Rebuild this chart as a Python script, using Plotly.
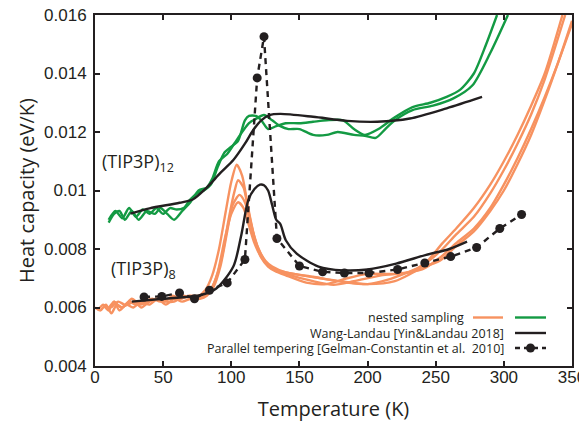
import plotly.graph_objects as go

# ---------------- data ----------------
# Parallel tempering [Gelman-Constantin et al. 2010], (TIP3P)8
pt_T = [36, 49, 62, 73, 84, 97, 110, 119, 124, 133.5, 150, 167, 183, 201, 222, 242, 261, 280, 297, 313]
pt_C = [0.00636, 0.00638, 0.0065, 0.0063, 0.00659, 0.00684, 0.00764, 0.01385, 0.01526, 0.00836,
        0.00742, 0.00722, 0.00718, 0.00718, 0.0073, 0.00752, 0.00774, 0.00805, 0.0087, 0.00918]

# Wang-Landau [Yin&Landau 2018], (TIP3P)8
wl8_T = [27, 50, 77, 89, 101.5, 107, 112.5, 117, 121, 124, 127, 130, 133, 136, 140, 148, 164, 182, 200, 221, 243, 260, 273]
wl8_C = [0.0062, 0.0063, 0.00642, 0.00665, 0.0074, 0.0084, 0.00967, 0.01005, 0.0102, 0.01018, 0.0100, 0.0095,
         0.0090, 0.00885, 0.0083, 0.00784, 0.0074, 0.00727, 0.0073, 0.0075, 0.0078, 0.0080, 0.00825]

# Wang-Landau [Yin&Landau 2018], (TIP3P)12
wl12_T = [26, 40, 62, 72, 82, 92, 101.5, 110, 116, 122, 128, 136, 160, 185, 207, 231, 258, 284]
wl12_C = [0.00921, 0.00939, 0.00958, 0.0097, 0.0101, 0.0106, 0.01104, 0.0116, 0.01206, 0.0124, 0.01258,
          0.01262, 0.01252, 0.01238, 0.01235, 0.01246, 0.01281, 0.0132]

# nested sampling, (TIP3P)12 (green)
ns12a_T = [10, 15, 20, 25, 30, 35, 40, 45, 50, 55, 60, 65, 70, 75, 80, 85, 90, 95, 100, 105, 110, 113, 118,
           122, 127, 133, 140, 150, 160, 170, 182, 190, 198, 208, 220, 233, 246, 258, 268, 278, 287, 295]
ns12a_C = [0.0090, 0.0093, 0.00905, 0.0094, 0.0091, 0.00935, 0.0092, 0.0094, 0.0092, 0.0094, 0.00935,
           0.0094, 0.0097, 0.0099, 0.0100, 0.0102, 0.0108, 0.0113, 0.0115, 0.0117, 0.0124, 0.01255,
           0.01255, 0.0124, 0.0121, 0.0122, 0.0123, 0.0123, 0.01235, 0.0124, 0.0124, 0.0121, 0.0119,
           0.0121, 0.0125, 0.01285, 0.0130, 0.0132, 0.01345, 0.0140, 0.0150, 0.0160]
ns12b_T = [10, 14, 18, 22, 27, 32, 38, 44, 48, 53, 58, 64, 70, 76, 82, 86, 91, 97, 105, 113, 118, 124,
           130, 136, 142, 150, 160, 170, 178, 190, 198, 206, 213, 220, 233, 248, 263, 277, 290, 303]
ns12b_C = [0.0089, 0.0092, 0.0093, 0.0090, 0.0093, 0.0090, 0.0093, 0.0092, 0.0094, 0.0092, 0.0090,
           0.0093, 0.0096, 0.0100, 0.0101, 0.0104, 0.0110, 0.01125, 0.0118, 0.0123, 0.01245, 0.01258,
           0.0124, 0.0122, 0.0121, 0.0121, 0.0119, 0.0119, 0.0120, 0.0119, 0.01187, 0.0118, 0.0121,
           0.0124, 0.01275, 0.0129, 0.01315, 0.0136, 0.0147, 0.0160]

# nested sampling, (TIP3P)8 (orange)
ns8a_T = [0, 4, 8, 12, 16, 20, 25, 30, 36, 42, 48, 55, 62, 70, 76, 81, 86, 91, 96, 100, 104, 108, 112,
          116, 120, 125, 130, 140, 160, 180, 200, 220, 240, 255, 265, 278, 290, 300, 310, 320, 330, 343]
ns8a_C = [0.0060, 0.0059, 0.0061, 0.0058, 0.0061, 0.0060, 0.0062, 0.0061, 0.0062, 0.0063, 0.0062,
          0.0063, 0.0063, 0.0064, 0.0064, 0.0066, 0.0071, 0.0080, 0.0093, 0.0103, 0.01088, 0.0105,
          0.0095, 0.0086, 0.0080, 0.0076, 0.0074, 0.0072, 0.00705, 0.0069, 0.0068, 0.0069, 0.0074,
          0.0082, 0.0087, 0.0094, 0.0102, 0.0110, 0.0119, 0.0129, 0.0140, 0.0160]
ns8b_T = [2, 6, 10, 14, 18, 23, 28, 34, 40, 46, 52, 58, 65, 72, 78, 83, 88, 93, 98, 102, 105, 109, 113,
          117, 121, 126, 131, 140, 160, 175, 190, 210, 230, 245, 255, 265, 278, 290, 300, 310, 320, 330, 345]
ns8b_C = [0.0059, 0.0061, 0.0060, 0.0062, 0.0059, 0.0061, 0.0060, 0.0062, 0.0061, 0.0063, 0.0062,
          0.0062, 0.0064, 0.0063, 0.0064, 0.0065, 0.0069, 0.0077, 0.0090, 0.0099, 0.01035, 0.0101,
          0.0092, 0.0084, 0.0079, 0.0075, 0.0073, 0.00715, 0.0069, 0.00678, 0.0069, 0.0071, 0.0072,
          0.0076, 0.0080, 0.0085, 0.0091, 0.0099, 0.0107, 0.0116, 0.0126, 0.0138, 0.0160]
ns8c_T = [6, 10, 14, 19, 24, 29, 34, 40, 46, 52, 58, 64, 70, 77, 82, 87, 92, 97, 101, 106, 110, 114,
          118, 122, 127, 132, 140, 155, 170, 185, 200, 220, 240, 253, 265, 278, 290, 300, 310, 320, 330, 340, 350]
ns8c_C = [0.0061, 0.0059, 0.0062, 0.0060, 0.0061, 0.0062, 0.0060, 0.0062, 0.0063, 0.0061, 0.0063,
          0.0062, 0.0063, 0.0063, 0.0064, 0.0067, 0.0074, 0.0086, 0.0095, 0.00985, 0.0096, 0.0089,
          0.0082, 0.0077, 0.0074, 0.00725, 0.0071, 0.00685, 0.0068, 0.0070, 0.00715, 0.00715, 0.0073,
          0.0077, 0.0082, 0.0087, 0.0094, 0.0102, 0.0111, 0.0121, 0.0132, 0.0144, 0.0157]
ns8d_T = [12, 17, 22, 27, 33, 39, 45, 51, 57, 63, 69, 75, 80, 85, 90, 95, 100, 105, 109, 113, 117, 121,
          126, 132, 140, 165, 185, 200, 215, 235, 253, 265, 278, 290, 300, 310, 320, 330, 340, 350]
ns8d_C = [0.0060, 0.0062, 0.0061, 0.0063, 0.0061, 0.0062, 0.0063, 0.0062, 0.0064, 0.0063, 0.0064,
          0.0063, 0.0064, 0.0066, 0.0072, 0.0083, 0.0092, 0.0096, 0.0094, 0.0088, 0.0082, 0.0078,
          0.0075, 0.0073, 0.0072, 0.0070, 0.00685, 0.0068, 0.00695, 0.0073, 0.0076, 0.0081, 0.0086,
          0.0093, 0.0100, 0.0109, 0.0119, 0.0131, 0.0144, 0.0158]

x_ticks = [0, 50, 100, 150, 200, 250, 300, 350]
y_ticks = [0.004, 0.006, 0.008, 0.010, 0.012, 0.014, 0.016]
y_ticktext = ["0.004", "0.006", "0.008", "0.01", "0.012", "0.014", "0.016"]

# ---------------- style ----------------
ORANGE = "#f79260"
GREEN = "#139a43"
BLACK = "#231f20"
LW = 2.4

fig = go.Figure()

for T, C in [(ns8a_T, ns8a_C), (ns8b_T, ns8b_C), (ns8c_T, ns8c_C), (ns8d_T, ns8d_C)]:
    fig.add_trace(go.Scatter(x=T, y=C, mode="lines", line=dict(color=ORANGE, width=LW, shape="spline", smoothing=0.7),
                             showlegend=False, hoverinfo="skip"))
for T, C in [(ns12a_T, ns12a_C), (ns12b_T, ns12b_C)]:
    fig.add_trace(go.Scatter(x=T, y=C, mode="lines", line=dict(color=GREEN, width=LW, shape="spline", smoothing=0.7),
                             showlegend=False, hoverinfo="skip"))
for T, C in [(wl12_T, wl12_C), (wl8_T, wl8_C)]:
    fig.add_trace(go.Scatter(x=T, y=C, mode="lines", line=dict(color=BLACK, width=LW, shape="spline", smoothing=0.8),
                             showlegend=False, hoverinfo="skip"))
fig.add_trace(go.Scatter(x=pt_T, y=pt_C, mode="lines+markers",
                         line=dict(color=BLACK, width=LW, dash="6px,5px"),
                         marker=dict(color=BLACK, size=9), showlegend=False, hoverinfo="skip"))

FONT = "Liberation Sans, Arial, sans-serif"
LFONT = "Open Sans, Liberation Sans, sans-serif"

axis_common = dict(showline=True, linecolor=BLACK, linewidth=2, mirror="allticks", ticks="inside",
                   ticklen=5, tickwidth=1.5, tickcolor=BLACK, showgrid=False, zeroline=False,
                   automargin=False, ticklabeloverflow="allow",
                   tickfont=dict(family=FONT, size=17, color=BLACK))

# the page has an 8px body margin: the figure starts at (8, 8) and fills the rest of the window
fig.update_layout(
    width=579, height=415,
    margin=dict(l=87, r=15, t=7, b=57),
    paper_bgcolor="white", plot_bgcolor="white",
    xaxis=dict(range=[0, 350], tickvals=x_ticks, ticklabelstandoff=-5,
               title=dict(text="Temperature (K)", font=dict(family=LFONT, size=20, color=BLACK), standoff=16), **axis_common),
    yaxis=dict(range=[0.004, 0.016], tickvals=y_ticks, ticktext=y_ticktext, ticklabelstandoff=3,
               title=dict(text="Heat capacity (eV/K)", font=dict(family=LFONT, size=20, color=BLACK), standoff=4), **axis_common),
    showlegend=False,
)

# labels
fig.add_annotation(x=0.01, y=0.58, xref="paper", yref="paper", xanchor="left", yanchor="middle",
                   text="(TIP3P)<sub>12</sub>", showarrow=False, font=dict(family=LFONT, size=18, color=BLACK))
fig.add_annotation(x=0.03, y=0.275, xref="paper", yref="paper", xanchor="left", yanchor="middle",
                   text="(TIP3P)<sub>8</sub>", showarrow=False, font=dict(family=LFONT, size=18, color=BLACK))

# custom legend (paper coordinates, plot area spans page pixels x 95..572, y 15..366)
def px2paper_x(px):
    return (px - 95) / 477.0

def px2paper_y(py):
    return (366 - py) / 351.0

rows = [("nested sampling", 465, 317), ("Wang-Landau [Yin&Landau 2018]", 505, 333),
        ("Parallel tempering [Gelman-Constantin et al.  2010]", 505, 348)]
for text, xr, yc in rows:
    fig.add_annotation(x=px2paper_x(xr), y=px2paper_y(yc), xref="paper", yref="paper", xanchor="right",
                       yanchor="middle", text=text, showarrow=False, font=dict(family=LFONT, size=12.5, color=BLACK),
                       borderpad=0)

fig.add_shape(type="line", xref="paper", yref="paper", x0=px2paper_x(473), x1=px2paper_x(503),
              y0=px2paper_y(317.5), y1=px2paper_y(317.5), line=dict(color=ORANGE, width=LW))
fig.add_shape(type="line", xref="paper", yref="paper", x0=px2paper_x(515), x1=px2paper_x(546),
              y0=px2paper_y(317.5), y1=px2paper_y(317.5), line=dict(color=GREEN, width=LW))
fig.add_shape(type="line", xref="paper", yref="paper", x0=px2paper_x(515), x1=px2paper_x(546),
              y0=px2paper_y(333), y1=px2paper_y(333), line=dict(color=BLACK, width=LW))
fig.add_shape(type="line", xref="paper", yref="paper", x0=px2paper_x(515), x1=px2paper_x(546),
              y0=px2paper_y(348), y1=px2paper_y(348), line=dict(color=BLACK, width=LW, dash="5px,4px"))
fig.add_shape(type="circle", xref="paper", yref="paper", x0=px2paper_x(526), x1=px2paper_x(535),
              y0=px2paper_y(352.5), y1=px2paper_y(343.5), fillcolor=BLACK, line=dict(color=BLACK, width=0))

fig.write_html("out.html")
